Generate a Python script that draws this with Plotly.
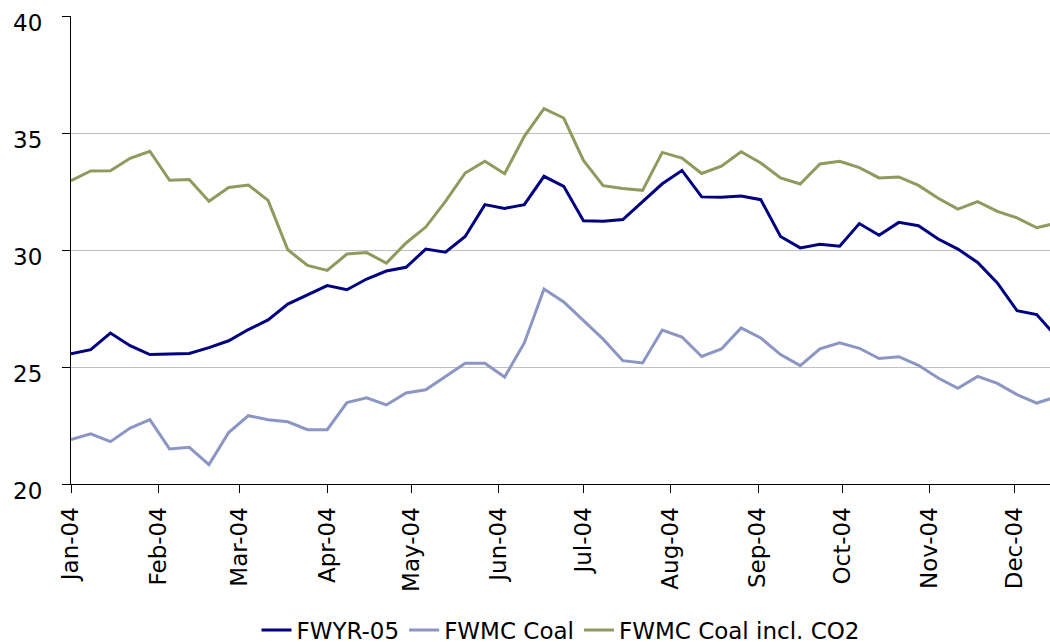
import pandas as pd
import plotly.graph_objects as go

# Weekly observation dates (51 weeks starting 1 Jan 2004)
dates = pd.date_range("2004-01-01", periods=51, freq="7D")

fwyr_05 = [25.56, 25.74, 26.45, 25.91, 25.53, 25.57, 25.58, 25.83, 26.12, 26.60,
           27.01, 27.69, 28.09, 28.48, 28.30, 28.76, 29.10, 29.26, 30.04, 29.91,
           30.58, 31.94, 31.78, 31.94, 33.15, 32.72, 31.25, 31.23, 31.30, 32.08,
           32.83, 33.40, 32.27, 32.25, 32.31, 32.15, 30.58, 30.09, 30.24, 30.16,
           31.13, 30.63, 31.18, 31.04, 30.47, 30.04, 29.47, 28.59, 27.41, 27.24,
           26.30]

fwmc_coal = [21.90, 22.14, 21.81, 22.39, 22.75, 21.50, 21.57, 20.83, 22.20, 22.92,
             22.75, 22.66, 22.32, 22.32, 23.48, 23.68, 23.38, 23.89, 24.03, 24.60,
             25.16, 25.16, 24.57, 26.03, 28.33, 27.78, 26.99, 26.19, 25.27, 25.17,
             26.58, 26.28, 25.45, 25.77, 26.67, 26.24, 25.53, 25.06, 25.78, 26.03,
             25.80, 25.36, 25.44, 25.07, 24.53, 24.09, 24.60, 24.30, 23.82, 23.46,
             23.72]

fwmc_coal_co2 = [32.96, 33.38, 33.39, 33.92, 34.22, 32.98, 33.01, 32.08, 32.67, 32.78,
                 32.12, 30.01, 29.34, 29.13, 29.83, 29.89, 29.44, 30.30, 30.98, 32.08,
                 33.29, 33.79, 33.26, 34.86, 36.04, 35.64, 33.83, 32.75, 32.63, 32.55,
                 34.17, 33.93, 33.27, 33.58, 34.20, 33.72, 33.08, 32.82, 33.68, 33.79,
                 33.52, 33.08, 33.12, 32.76, 32.21, 31.75, 32.07, 31.65, 31.37, 30.95,
                 31.15]

tick_dates = pd.date_range("2004-01-01", periods=12, freq="MS")
tick_labels = [d.strftime("%b-%y") for d in tick_dates]
y_ticks = [20, 25, 30, 35, 40]

series = [
    ("FWYR-05", fwyr_05, "#000080"),
    ("FWMC Coal", fwmc_coal, "#8C96C3"),
    ("FWMC Coal incl. CO2", fwmc_coal_co2, "#8E9A5E"),
]

font_family = "DejaVu Sans"
fsize = 23

fig = go.Figure()
for name, vals, color in series:
    fig.add_trace(go.Scatter(
        x=dates, y=vals, name=name, mode="lines",
        line=dict(color=color, width=3),
    ))

fig.update_layout(
    width=1050, height=642,
    margin=dict(l=71, r=0, t=16, b=158, autoexpand=False),
    paper_bgcolor="white", plot_bgcolor="white",
    font=dict(family=font_family, size=fsize, color="black"),
    showlegend=True,
    legend=dict(
        orientation="h", x=0.5, xanchor="center", y=-0.266, yanchor="top",
        font=dict(family=font_family, size=fsize, color="black"),
        itemwidth=30, tracegroupgap=0,
    ),
)

fig.update_xaxes(
    type="date",
    range=["2004-01-01", "2004-12-13 17:00"],
    tickvals=list(tick_dates), ticktext=tick_labels,
    tickangle=-90,
    ticks="outside", ticklen=8, tickcolor="black", tickwidth=1,
    showline=True, linecolor="black", linewidth=1,
    showgrid=False, zeroline=False,
    ticklabelstandoff=5,
    tickfont=dict(family=font_family, size=fsize, color="black"),
)

fig.update_yaxes(
    range=[20, 40], tickvals=y_ticks,
    ticks="outside", ticklen=8, tickcolor="black", tickwidth=1,
    showline=True, linecolor="black", linewidth=1,
    showgrid=True, gridcolor="#c0c0c0", gridwidth=1,
    zeroline=False, showticklabels=False,
)

# y tick labels (placed slightly below their gridlines, as in the original)
for v in y_ticks:
    fig.add_annotation(
        x=0, xref="paper", y=v, yref="y", text=str(v),
        xanchor="right", yanchor="middle", xshift=-27, yshift=-7,
        showarrow=False, font=dict(family=font_family, size=fsize, color="black"),
    )

fig.write_html(
    "out.html",
    config={"displayModeBar": False},
    post_script="document.body.style.margin='0';document.body.style.overflow='hidden';",
)
